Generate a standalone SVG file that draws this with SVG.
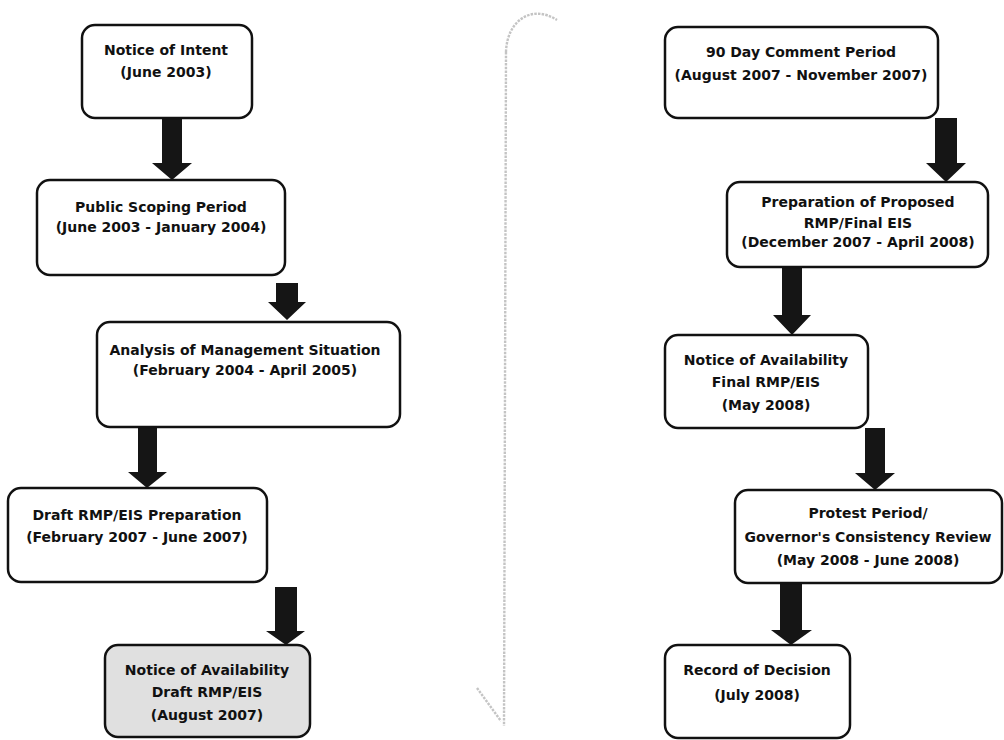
<svg xmlns="http://www.w3.org/2000/svg" width="1004" height="740" viewBox="0 0 1004 740">
  <style>
    .box { fill: #ffffff; stroke: #111111; stroke-width: 2.5; }
    .box.hl { fill: #e0e0e0; }
    .lbl { font-family: "DejaVu Sans", "Liberation Sans", sans-serif; font-weight: bold; font-size: 14px; fill: #111111; text-anchor: middle; }
    .arrow { fill: #151515; }
    .divider { fill: none; stroke: #c4c4c4; stroke-width: 2.4; stroke-dasharray: 2.5 1.2; stroke-linecap: butt; }
  </style>

  <!-- divider between the two columns -->
  <g id="divider">
    <path class="divider" d="M 506 52 C 507 20, 532 4, 557 20"/>
    <path class="divider" d="M 506 52 L 504 726"/>
    <path class="divider" d="M 477 688 L 501 721"/>
  </g>

  <!-- block arrows between steps -->
  <g id="connectors">
    <path class="arrow" d="M 162 118 H 182 V 163 H 192 L 172 180 L 152 163 H 162 Z"/>
    <path class="arrow" d="M 276 283 H 298 V 302 H 306 L 287 320 L 268 302 H 276 Z"/>
    <path class="arrow" d="M 138 427 H 157 V 472 H 167 L 147 488 L 128 472 H 138 Z"/>
    <path class="arrow" d="M 275 587 H 297 V 631 H 305 L 286 645 L 266 631 H 275 Z"/>
    <path class="arrow" d="M 935 118 H 957 V 163 H 966 L 946 182 L 926 163 H 935 Z"/>
    <path class="arrow" d="M 782 267 H 802 V 315 H 811 L 792 335 L 773 315 H 782 Z"/>
    <path class="arrow" d="M 865 428 H 885 V 473 H 895 L 875 490 L 855 473 H 865 Z"/>
    <path class="arrow" d="M 780 583 H 802 V 630 H 812 L 791 645 L 771 630 H 780 Z"/>
  </g>

  <g id="notice-of-intent">
    <rect class="box" x="82" y="25" width="170" height="93" rx="13"/>
    <text class="lbl" x="166" y="55">Notice of Intent</text>
    <text class="lbl" x="166" y="77">(June 2003)</text>
  </g>

  <g id="public-scoping">
    <rect class="box" x="37" y="180" width="248" height="95" rx="13"/>
    <text class="lbl" x="161" y="212">Public Scoping Period</text>
    <text class="lbl" x="161" y="232">(June 2003 - January 2004)</text>
  </g>

  <g id="analysis">
    <rect class="box" x="97" y="322" width="303" height="105" rx="13"/>
    <text class="lbl" x="245" y="355">Analysis of Management Situation</text>
    <text class="lbl" x="245" y="375">(February 2004 - April 2005)</text>
  </g>

  <g id="draft-preparation">
    <rect class="box" x="8" y="488" width="259" height="94" rx="13"/>
    <text class="lbl" x="137" y="520">Draft RMP/EIS Preparation</text>
    <text class="lbl" x="137" y="542">(February 2007 - June 2007)</text>
  </g>

  <g id="noa-draft">
    <rect class="box hl" x="105" y="645" width="205" height="92" rx="13"/>
    <text class="lbl" x="207" y="675">Notice of Availability</text>
    <text class="lbl" x="207" y="697">Draft RMP/EIS</text>
    <text class="lbl" x="207" y="720">(August 2007)</text>
  </g>

  <g id="comment-period">
    <rect class="box" x="665" y="27" width="273" height="91" rx="13"/>
    <text class="lbl" x="801" y="57">90 Day Comment Period</text>
    <text class="lbl" x="801" y="80">(August 2007 - November 2007)</text>
  </g>

  <g id="proposed-rmp">
    <rect class="box" x="727" y="182" width="261" height="85" rx="13"/>
    <text class="lbl" x="858" y="207">Preparation of Proposed</text>
    <text class="lbl" x="858" y="228">RMP/Final EIS</text>
    <text class="lbl" x="858" y="247">(December 2007 - April 2008)</text>
  </g>

  <g id="noa-final">
    <rect class="box" x="665" y="335" width="203" height="93" rx="13"/>
    <text class="lbl" x="766" y="365">Notice of Availability</text>
    <text class="lbl" x="766" y="387">Final RMP/EIS</text>
    <text class="lbl" x="766" y="410">(May 2008)</text>
  </g>

  <g id="protest-period">
    <rect class="box" x="735" y="490" width="267" height="93" rx="13"/>
    <text class="lbl" x="868" y="518">Protest Period/</text>
    <text class="lbl" x="868" y="542">Governor's Consistency Review</text>
    <text class="lbl" x="868" y="565">(May 2008 - June 2008)</text>
  </g>

  <g id="record-of-decision">
    <rect class="box" x="665" y="645" width="185" height="93" rx="13"/>
    <text class="lbl" x="757" y="675">Record of Decision</text>
    <text class="lbl" x="757" y="700">(July 2008)</text>
  </g>
</svg>
